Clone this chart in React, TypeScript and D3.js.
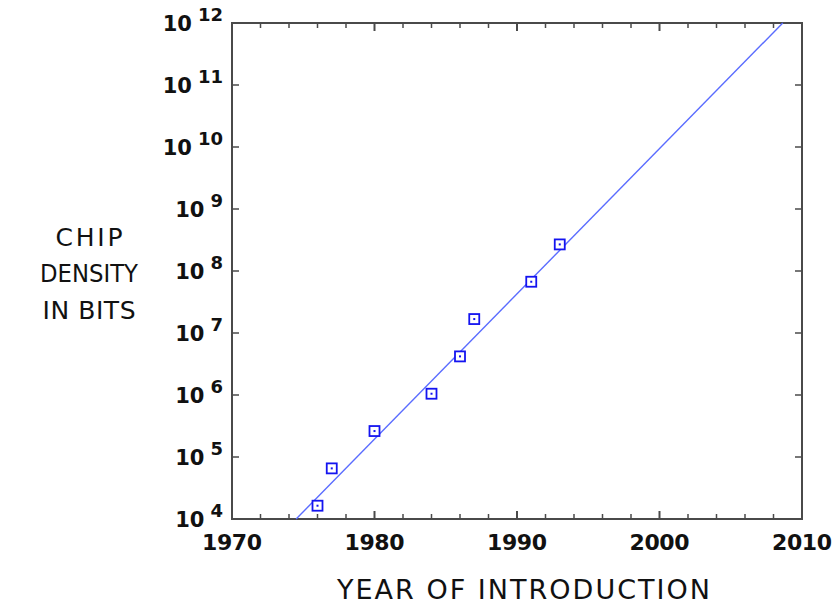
import React from "react";
import * as d3 from "d3";

const pointYears = [1976, 1977, 1980, 1984, 1986, 1987, 1991, 1993];
const pointBits = [16384, 65536, 262144, 1048576, 4194304, 16777216, 67108864, 268435456];
const trendYears = [1974.5, 2008.65];
const trendBits = [1e4, 1e12];
const xTickLabels = [1970, 1980, 1990, 2000, 2010];
const yExponents = [4, 5, 6, 7, 8, 9, 10, 11, 12];
const yLabelLines = ["CHIP", "DENSITY", "IN BITS"];
const xTitle = "YEAR OF INTRODUCTION";

const W = 834, H = 607;
const L = 232, R = 802, T = 23, B = 519;

export default function App() {
  const x = d3.scaleLinear().domain([1970, 2010]).range([L, R]);
  const y = d3.scaleLog().domain([1e4, 1e12]).range([B, T]);
  const minorYears = d3.range(1970, 2011, 2);
  const line = d3
    .line<number>()
    .x((_, i) => x(trendYears[i]))
    .y((_, i) => y(trendBits[i]));
  const axisColor = "#4a4a4a";
  const bold = { fontFamily: "DejaVu Sans", fontWeight: 700 } as const;
  const titleFont = "'DejaVu Sans', sans-serif";
  return (
    <svg
      width={W}
      height={H}
      style={{ position: "absolute", left: 0, top: 0, background: "#fff" }}
    >
      {minorYears.map((yr) => {
        const major = yr % 10 === 0;
        const len = major ? 8 : 5;
        return (
          <g key={yr}>
            <line x1={x(yr)} x2={x(yr)} y1={B} y2={B - len} stroke={axisColor} strokeWidth={major ? 2 : 1.5} />
            <line x1={x(yr)} x2={x(yr)} y1={T} y2={T + len} stroke={axisColor} strokeWidth={major ? 2 : 1.5} />
          </g>
        );
      })}
      {yExponents.map((e) => (
        <g key={e}>
          <line x1={L} x2={L + 7} y1={y(10 ** e)} y2={y(10 ** e)} stroke={axisColor} strokeWidth={1.5} />
          <line x1={R} x2={R - 7} y1={y(10 ** e)} y2={y(10 ** e)} stroke={axisColor} strokeWidth={1.5} />
        </g>
      ))}
      <rect x={L} y={T} width={R - L} height={B - T} fill="none" stroke={axisColor} strokeWidth={2} />
      <path d={line(trendYears) || ""} fill="none" stroke="#5a6cff" strokeWidth={1.4} />
      {pointYears.map((yr, i) => (
        <g key={yr}>
          <rect
            x={x(yr) - 5}
            y={y(pointBits[i]) - 5}
            width={10}
            height={10}
            fill="#fff"
            stroke="#1414f0"
            strokeWidth={1.8}
          />
          <rect x={x(yr) - 1} y={y(pointBits[i]) - 1} width={2} height={2} fill="#1414f0" />
        </g>
      ))}
      {yExponents.map((e) => (
        <text key={e} x={L - 9} y={y(10 ** e) + 8} textAnchor="end" fill="#111" style={bold}>
          <tspan fontSize={21}>10</tspan>
          <tspan fontSize={18} dx={6} dy={-10}>{e}</tspan>
        </text>
      ))}
      {xTickLabels.map((yr) => (
        <text
          key={yr}
          x={x(yr)}
          y={550}
          textAnchor="middle"
          fontSize={22}
          fill="#111"
          style={bold}
          textLength={60}
          lengthAdjust="spacing"
        >
          {yr}
        </text>
      ))}
      {yLabelLines.map((s, i) => (
        <text
          key={s}
          x={89}
          y={[246, 282, 319][i]}
          textAnchor="middle"
          fontSize={25}
          fill="#111"
          fontFamily={titleFont}
          textLength={[67, 98, 93][i]}
          lengthAdjust={i === 1 ? "spacingAndGlyphs" : "spacing"}
        >
          {s}
        </text>
      ))}
      <text
        x={523.5}
        y={599}
        textAnchor="middle"
        fontSize={27}
        fill="#111"
        fontFamily={titleFont}
        textLength={373}
        lengthAdjust="spacing"
      >
        {xTitle}
      </text>
    </svg>
  );
}
